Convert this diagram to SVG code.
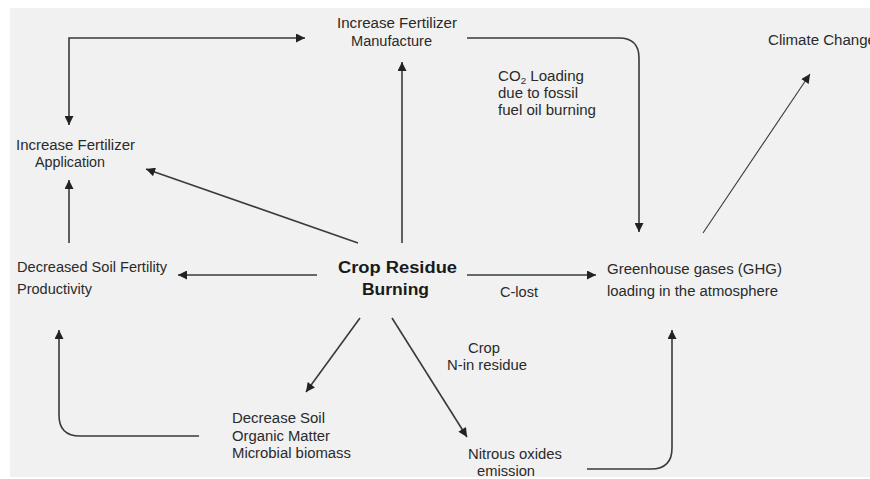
<svg xmlns="http://www.w3.org/2000/svg" width="870" height="479" viewBox="0 0 870 479">
<style>
.bg{fill:#f1f1f1}
.lbl{font-family:"Liberation Sans",Arial,sans-serif;font-size:14px;fill:#2a2a2a}
.bold{font-family:"Liberation Sans",Arial,sans-serif;font-size:16px;font-weight:bold;fill:#1a1a1a}
.c{fill:none;stroke:#3a3a3a;stroke-width:1.6;marker-end:url(#ah)}
.thin{stroke-width:1.1}
</style>
<defs>
<marker id="ah" viewBox="0 0 10 10" refX="10" refY="5" markerWidth="10" markerHeight="9" markerUnits="userSpaceOnUse" orient="auto-start-reverse">
<path d="M0,0 L10,5 L0,10 z" fill="#222"/>
</marker>
</defs>
<rect class="bg" x="10" y="8" width="860" height="469"/>

<g id="connectors">
<path class="c" d="M69,125 L69,38 L305,38" marker-start="url(#ah)"/>
<path class="c" d="M467,38 H619 Q639,38 639,58 V232"/>
<path class="c" d="M402,243 V62"/>
<path class="c" d="M358,243 L146,169"/>
<path class="c" d="M317,275 H178"/>
<path class="c" d="M467,275 H596"/>
<path class="c" d="M69,243 V180"/>
<path class="c" d="M360,318 L306,392"/>
<path class="c" d="M392,318 L467,437"/>
<path class="c" d="M199,436 H80 Q59,436 59,415 V330"/>
<path class="c" d="M587,469 H651 Q672,469 672,448 V330"/>
<path class="c thin" d="M703,233 L810,74"/>
</g>

<g id="manufacture">
<text class="lbl" x="337" y="28" textLength="120" lengthAdjust="spacingAndGlyphs">Increase Fertilizer</text>
<text class="lbl" x="351" y="46" textLength="81" lengthAdjust="spacingAndGlyphs">Manufacture</text>
</g>
<g id="application">
<text class="lbl" x="16" y="150" textLength="119" lengthAdjust="spacingAndGlyphs">Increase Fertilizer</text>
<text class="lbl" x="35" y="167" textLength="70" lengthAdjust="spacingAndGlyphs">Application</text>
</g>
<g id="climate">
<text class="lbl" x="768" y="45" textLength="108" lengthAdjust="spacingAndGlyphs">Climate Change</text>
</g>
<g id="co2label">
<text class="lbl" x="498" y="81" textLength="86" lengthAdjust="spacingAndGlyphs">CO<tspan font-size="9" dy="3">2</tspan><tspan dy="-3"> Loading</tspan></text>
<text class="lbl" x="498" y="98" textLength="80" lengthAdjust="spacingAndGlyphs">due to fossil</text>
<text class="lbl" x="498" y="115" textLength="98" lengthAdjust="spacingAndGlyphs">fuel oil burning</text>
</g>
<g id="crop-residue">
<text class="bold" x="338" y="273" textLength="119" lengthAdjust="spacingAndGlyphs">Crop Residue</text>
<text class="bold" x="362" y="295" textLength="67" lengthAdjust="spacingAndGlyphs">Burning</text>
</g>
<g id="soil-fertility">
<text class="lbl" x="17" y="272" textLength="150" lengthAdjust="spacingAndGlyphs">Decreased Soil Fertility</text>
<text class="lbl" x="17" y="294" textLength="75" lengthAdjust="spacingAndGlyphs">Productivity</text>
</g>
<g id="ghg">
<text class="lbl" x="607" y="274" textLength="175" lengthAdjust="spacingAndGlyphs">Greenhouse gases (GHG)</text>
<text class="lbl" x="607" y="296" textLength="171" lengthAdjust="spacingAndGlyphs">loading in the atmosphere</text>
</g>
<g id="clost">
<text class="lbl" x="500" y="297" textLength="38" lengthAdjust="spacingAndGlyphs">C-lost</text>
</g>
<g id="nlabel">
<text class="lbl" x="468" y="353" textLength="32" lengthAdjust="spacingAndGlyphs">Crop</text>
<text class="lbl" x="447" y="370" textLength="80" lengthAdjust="spacingAndGlyphs">N-in residue</text>
</g>
<g id="som">
<text class="lbl" x="232" y="423" textLength="93" lengthAdjust="spacingAndGlyphs">Decrease Soil</text>
<text class="lbl" x="232" y="441" textLength="98" lengthAdjust="spacingAndGlyphs">Organic Matter</text>
<text class="lbl" x="232" y="458" textLength="119" lengthAdjust="spacingAndGlyphs">Microbial biomass</text>
</g>
<g id="nitrous">
<text class="lbl" x="468" y="459" textLength="94" lengthAdjust="spacingAndGlyphs">Nitrous oxides</text>
<text class="lbl" x="477" y="476" textLength="58" lengthAdjust="spacingAndGlyphs">emission</text>
</g>
</svg>
